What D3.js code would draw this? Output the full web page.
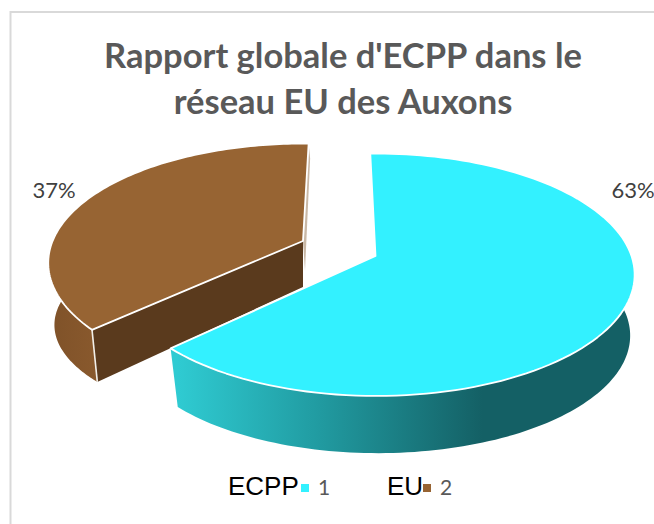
<!DOCTYPE html>
<html><head><meta charset="utf-8">
<script src="https://cdn.jsdelivr.net/npm/d3@7"></script>
<style>html,body{margin:0;padding:0;background:#fff}svg{display:block}</style></head>
<body><svg id="c" width="654" height="524"></svg>
<script>
const categories = ["ECPP", "EU"];
const legendIndex = ["1", "2"];
const values = [63, 37];
const titleLines = ["Rapport globale d'ECPP dans le", "réseau EU des Auxons"];

const topColors = ["#33f1ff", "#976433"];
const svg = d3.select("#c");
const K = 0.167, A = 119, B = 255;
const toRad = d => d * Math.PI / 180;

// perspective disc projection
function projector(o) {
  return a => {
    const X = Math.sin(a), Y = -Math.cos(a), w = 1 - K * Y;
    return [o.cx + o.sx * B * X / w, o.cy + o.sy * A * Y / w];
  };
}
const sliceGeom = [
  { rot: -1.5, apex: [375.5, 256], apexLow: [376, 316], top: { cx: 376, cy: 254.5, sx: 1, sy: 0.99 }, bot: { cx: 378, cy: 316, sx: 0.975, sy: 0.96 }, vis: [toRad(60), null] },
  { rot: 1.5, apex: [303, 241], apexLow: [303, 287], top: { cx: 303, cy: 243, sx: 0.985, sy: 0.975 }, bot: { cx: 304, cy: 308, sx: 0.965, sy: 0.83 }, vis: [null, toRad(310)] }
];
const pie = d3.pie().sort(null).startAngle(0).endAngle(2 * Math.PI);
const arcs = pie(values);
const line = d3.line();
function rim(f, a0, a1) { return d3.range(0, 121).map(i => f(a0 + (a1 - a0) * i / 120)); }

svg.append("path").attr("d", "M10.5 524V12H654").attr("fill", "none").attr("stroke", "#d9d9d9").attr("stroke-width", 2);

const defs = svg.append("defs");
function grad(id, x1, x2, stops) {
  const g = defs.append("linearGradient").attr("id", id).attr("gradientUnits", "userSpaceOnUse")
    .attr("x1", x1).attr("x2", x2).attr("y1", 0).attr("y2", 0);
  stops.forEach(s => g.append("stop").attr("offset", s[0]).attr("stop-color", s[1]));
}
grad("sideCyan", 177, 640, [[0, "#2fcbd2"], [0.3, "#219ca2"], [0.66, "#146065"], [1, "#146065"]]);
grad("sideBrown", 50, 110, [[0, "#7f5229"], [1, "#8c5b2e"]]);

// draw brown (index 1) first, then cyan
[1, 0].forEach(i => {
  const g = sliceGeom[i], d = arcs[i];
  const a0 = d.startAngle + toRad(g.rot), a1 = d.endAngle + toRad(g.rot);
  const T = projector(g.top), L = projector(g.bot);
  const ApexT = g.apex, ApexL = g.apexLow;
  const layer = svg.append("g");
  const s0 = g.vis[0] === null ? a0 : g.vis[0], s1 = g.vis[1] === null ? a1 : g.vis[1];
  if (i === 1) {
    // sliver of the rear cut face
    layer.append("path").attr("d", line([ApexT, T(a1), [T(a1)[0] + 1.5, T(a1)[1] + 15], [ApexT[0] + 2, ApexL[1] - 16]]) + "Z")
      .attr("fill", "#c9b8a6");
    // front cut face
    layer.append("path").attr("d", line([ApexT, T(a0), L(a0), ApexL]) + "Z").attr("fill", "#5a3a1d");
  }
  layer.append("path")
    .attr("d", line(rim(T, s0, s1).concat(rim(L, s0, s1).reverse())) + "Z")
    .attr("fill", i === 0 ? "url(#sideCyan)" : "url(#sideBrown)");
  if (i === 1) {
    layer.append("path").attr("d", line([T(a0), L(a0)])).attr("stroke", "#f2efe9").attr("stroke-width", 1.6).attr("fill", "none");
  }
  layer.append("path")
    .attr("d", line([ApexT].concat(rim(T, a0, a1))) + "Z")
    .attr("fill", topColors[i]).attr("stroke", "#ffffff").attr("stroke-width", 1.8).attr("stroke-linejoin", "round");
});

// title
svg.append("g").selectAll("text").data(titleLines).join("text")
  .attr("x", 343).attr("y", (d, i) => 68 + i * 46)
  .attr("text-anchor", "middle").attr("font-family", "Lato").attr("font-weight", 700)
  .attr("font-size", 34.5).attr("fill", "#595959").text(d => d);

// value labels
const labelPos = [[633, 198], [54, 198]];
svg.append("g").selectAll("text").data(values).join("text")
  .attr("x", (d, i) => labelPos[i][0]).attr("y", (d, i) => labelPos[i][1])
  .attr("text-anchor", "middle").attr("font-family", "Lato").attr("font-size", 22)
  .attr("fill", "#404040").text(d => d + "%");

// legend
const legendX = [228, 387], swatchX = [301, 423], idxX = [318, 440];
const lg = svg.append("g");
categories.forEach((c, i) => {
  lg.append("text").attr("x", legendX[i]).attr("y", 495).attr("font-family", "Liberation Sans")
    .attr("font-size", 26).attr("fill", "#000").text(c);
  lg.append("rect").attr("x", swatchX[i]).attr("y", 484).attr("width", 8).attr("height", 8).attr("fill", topColors[i]);
  lg.append("text").attr("x", idxX[i]).attr("y", 495).attr("font-family", "Lato")
    .attr("font-size", 21).attr("fill", "#595959").text(legendIndex[i]);
});
</script></body></html>
